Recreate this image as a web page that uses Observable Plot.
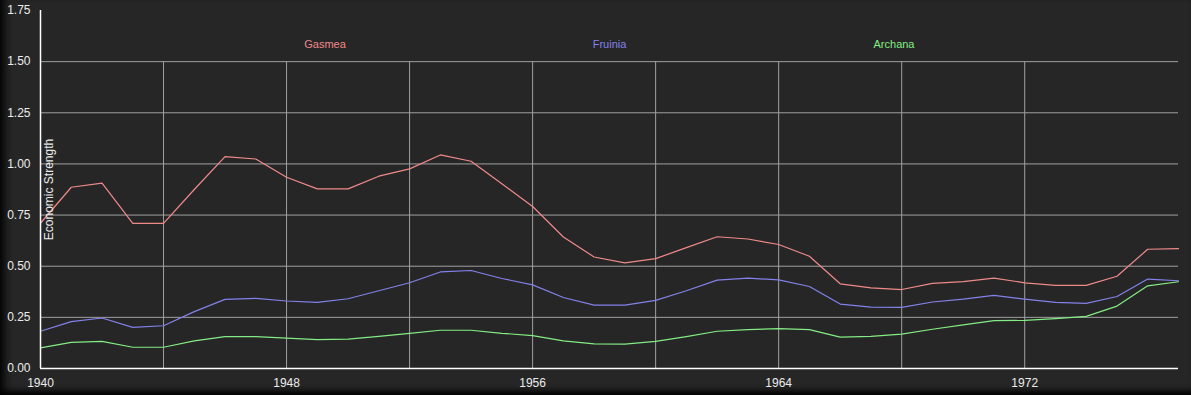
<!DOCTYPE html>
<html><head><meta charset="utf-8">
<script src="https://cdn.jsdelivr.net/npm/d3@7"></script>
<script src="https://cdn.jsdelivr.net/npm/@observablehq/plot@0.6"></script>
<style>
html,body{margin:0;padding:0;background:#262626;}
#chart{width:1191px;height:395px;position:relative;box-shadow: inset 10px 0 8px -6px #000, inset 0 -9px 6px -5px #000;}
#chart svg{display:block;}
</style></head><body><div id="chart"></div>
<script>
const years = [1940,1941,1942,1943,1944,1945,1946,1947,1948,1949,1950,1951,1952,1953,1954,1955,1956,1957,1958,1959,1960,1961,1962,1963,1964,1965,1966,1967,1968,1969,1970,1971,1972,1973,1974,1975,1976,1977];
const gasmea = [0.71,0.886,0.906,0.709,0.709,0.875,1.036,1.024,0.935,0.878,
  0.878,0.940,0.976,1.044,1.013,0.903,0.792,0.643,0.545,0.516,
  0.537,0.591,0.644,0.633,0.606,0.549,0.414,0.394,0.386,0.416,
  0.425,0.442,0.419,0.406,0.406,0.451,0.583,0.586];
const fruinia = [0.182,0.229,0.247,0.201,0.209,0.278,0.338,0.343,0.330,0.323,
  0.341,0.380,0.419,0.472,0.479,0.440,0.409,0.347,0.310,0.310,
  0.333,0.380,0.432,0.442,0.433,0.401,0.315,0.300,0.299,0.325,
  0.339,0.357,0.339,0.323,0.318,0.352,0.437,0.429];
const archana = [0.101,0.128,0.133,0.104,0.104,0.135,0.156,0.156,0.148,0.141,
  0.144,0.157,0.172,0.187,0.187,0.172,0.161,0.135,0.120,0.119,
  0.133,0.156,0.182,0.190,0.195,0.190,0.153,0.157,0.168,0.192,
  0.213,0.234,0.235,0.244,0.255,0.305,0.404,0.424];
const seriesNames = ["Gasmea","Fruinia","Archana"];
const seriesColors = ["#f08a8a","#8282ea","#84ec84"];
const xTickLabels = [1940,1948,1956,1964,1972];
const xGrid = [1944,1948,1952,1956,1960,1964,1968,1972];
const yTicks = [0,0.25,0.5,0.75,1.0,1.25,1.5,1.75];
const yGrid = [0.25,0.5,0.75,1.0,1.25,1.5];
const yLabel = "Economic Strength";

const seriesValues = [gasmea, fruinia, archana];
const data = seriesNames.flatMap((name, s) => years.map((year, i) => ({series: name, year, value: seriesValues[s][i]})));
const x0 = years[0], x1 = years[years.length-1];
const gridTop = yGrid[yGrid.length-1];

const chart = Plot.plot({
  width: 1191, height: 395,
  marginLeft: 40, marginRight: 13, marginTop: 10, marginBottom: 27,
  style: {background: "transparent", fontFamily: "'Liberation Sans', Arial, sans-serif", fontSize: "12px", color: "#ececec"},
  x: {domain: [x0, x1], axis: null, label: null},
  y: {domain: [0, 1.75], axis: null, label: null},
  color: {domain: seriesNames, range: seriesColors},
  marks: [
    Plot.ruleY(yGrid, {x1: x0, x2: x1, stroke: "#a0a0a0", strokeWidth: 1}),
    Plot.ruleX(xGrid, {y1: 0, y2: gridTop, stroke: "#a0a0a0", strokeWidth: 1}),
    Plot.axisX({ticks: xTickLabels, tickFormat: d => String(d), tickSize: 0, tickPadding: 10, fill: "#ececec", fontSize: 12, label: null}),
    Plot.axisY({ticks: yTicks, tickFormat: d => d.toFixed(2), tickSize: 0, tickPadding: 10, fill: "#ececec", fontSize: 12, label: null}),
    Plot.line(data, {x: "year", y: "value", z: "series", stroke: "series", strokeWidth: 1.2}),
    Plot.ruleX([x0], {y1: 0, y2: 1.75, stroke: "#ffffff", strokeWidth: 1.5}),
    Plot.ruleY([0], {x1: x0, x2: x1, stroke: "#ffffff", strokeWidth: 1.5}),
    Plot.text(seriesNames, {x: (d, i) => x0 + (x1 - x0) * (i + 1) / 4, frameAnchor: "top", dy: 30, text: d => d, fill: d => d, fontSize: 11}),
    Plot.text([yLabel], {frameAnchor: "left", textAnchor: "middle", rotate: -90, dx: 9, text: d => d, fill: "#ececec", fontSize: 12})
  ]
});
document.getElementById("chart").appendChild(chart);
</script></body></html>
